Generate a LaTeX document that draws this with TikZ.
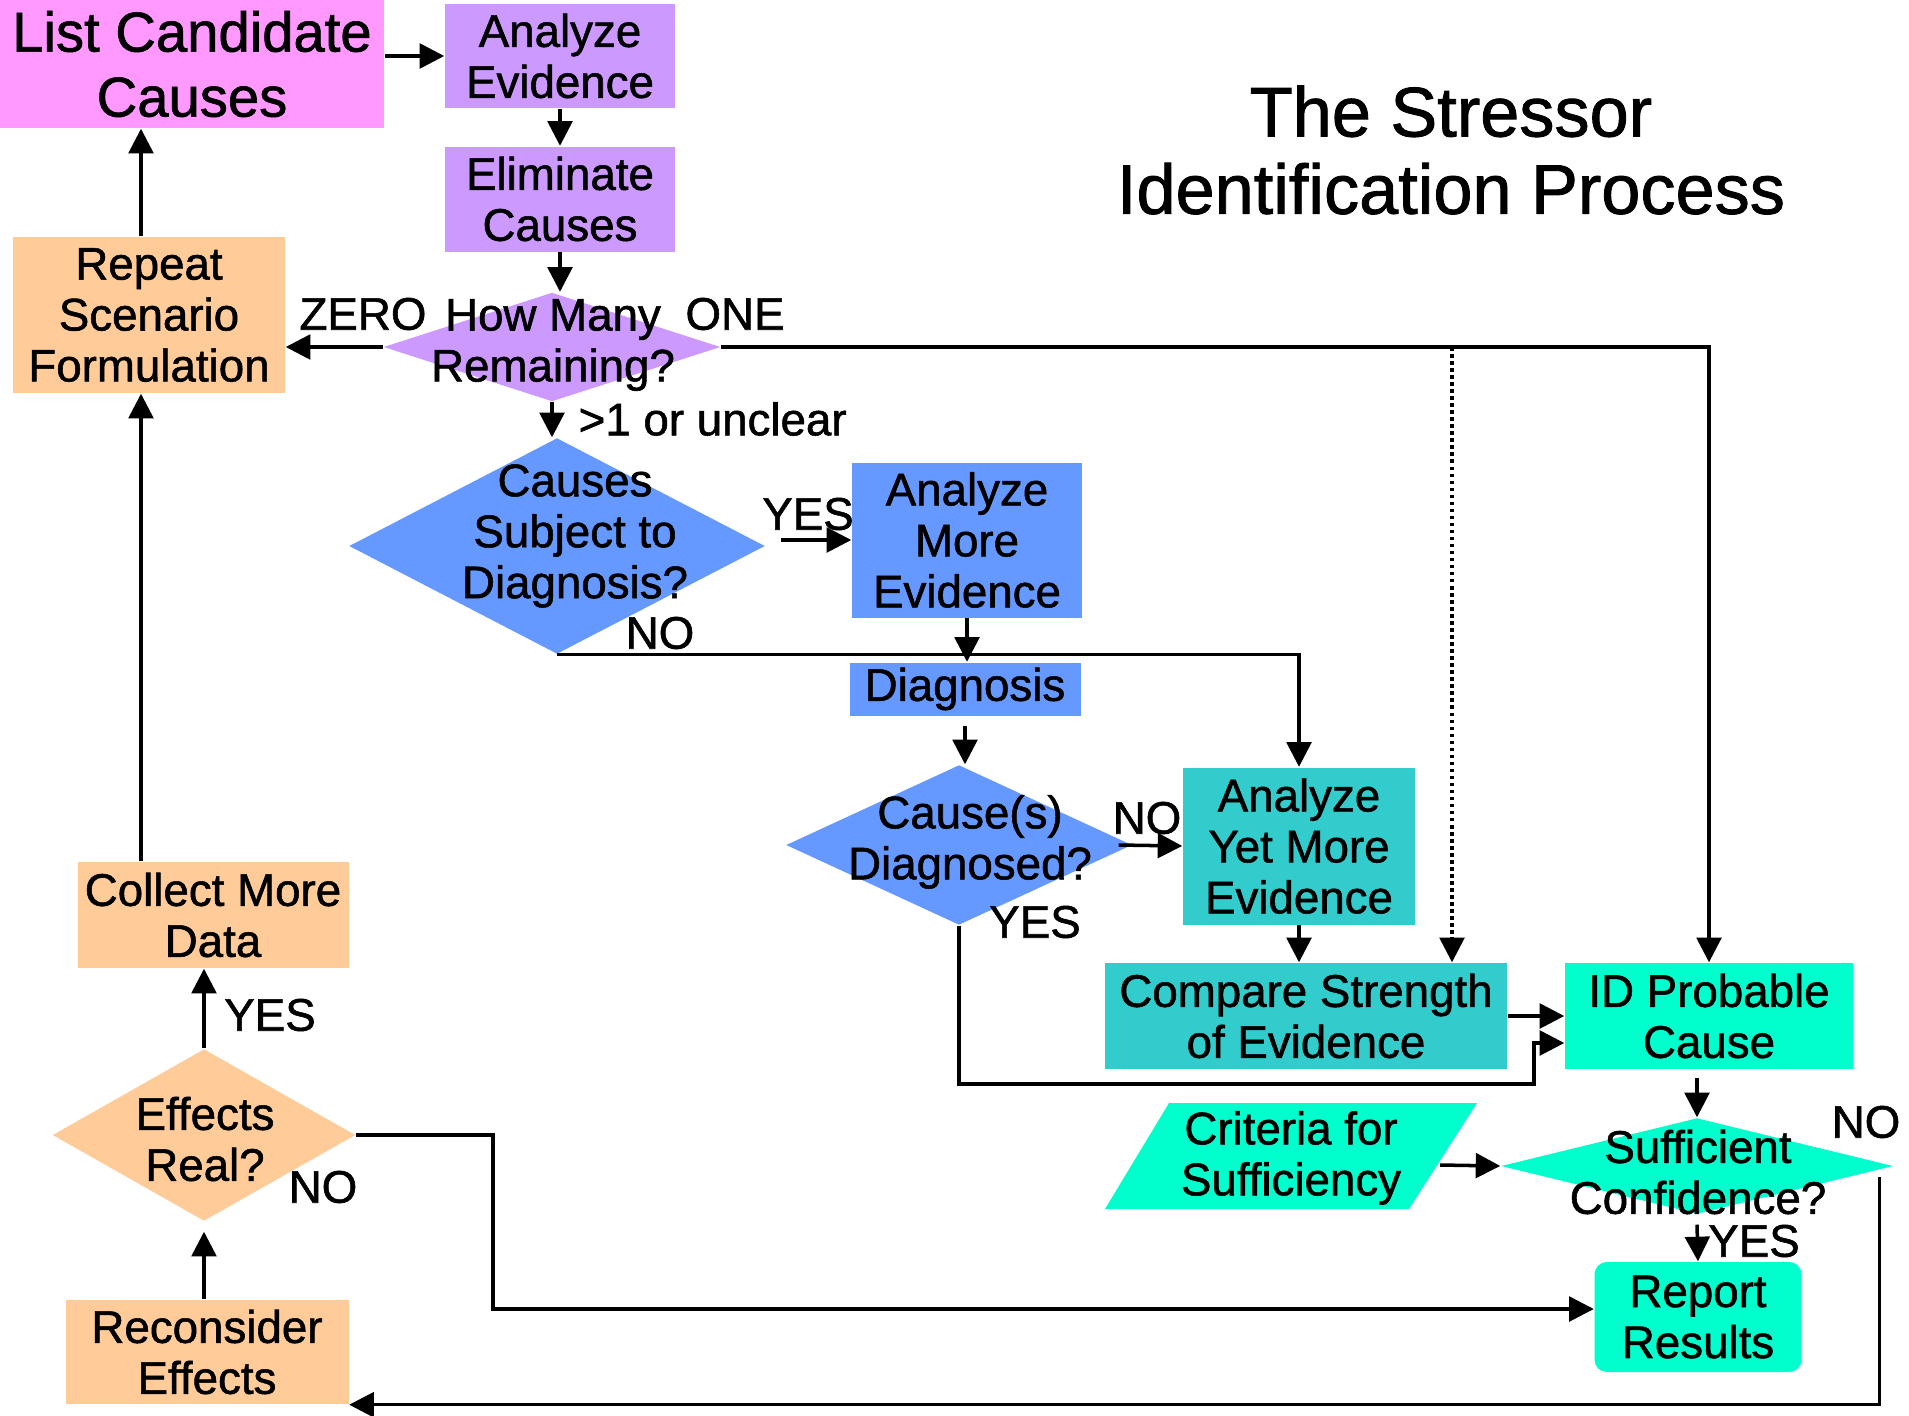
\documentclass[tikz,border=0pt]{standalone}
\usepackage{fontspec}
\setmainfont{Liberation Sans}[FakeBold=1.2]
\usetikzlibrary{shapes.geometric,arrows.meta}
\definecolor{pinkbox}{HTML}{FF99FF}
\definecolor{lilac}{HTML}{CC99FF}
\definecolor{peach}{HTML}{FFCC99}
\definecolor{bluebox}{HTML}{6699FF}
\definecolor{tealbox}{HTML}{33CCCC}
\definecolor{mint}{HTML}{00FFCC}
\begin{document}
\begin{tikzpicture}[x=0.1mm,y=-0.1mm,
  txt/.style={font=\fontsize{13}{14.5}\selectfont, align=center, inner sep=0pt},
  box/.style={rectangle, inner sep=0pt, align=center, font=\fontsize{13}{14.5}\selectfont},
  dia/.style={diamond, inner sep=0pt},
  arr/.style={-{Triangle[length=7pt,width=7pt]}, line width=1pt},
  lbl/.style={font=\fontsize{13}{14.5}\selectfont, inner sep=0pt}]

\useasboundingbox (0,0) rectangle (1909,1416);

% title
\node[txt, font=\fontsize{20}{22}\selectfont] (title) at (1451,150) {The Stressor\\Identification Process};

% upper chain
\node[box, fill=pinkbox, minimum width=38.4mm, minimum height=12.8mm, font=\fontsize{16}{18.5}\selectfont] (list) at (192,64) {List Candidate\\Causes};
\node[box, fill=lilac, minimum width=23mm, minimum height=10.4mm] (ae) at (560,56) {Analyze\\Evidence};
\node[box, fill=lilac, minimum width=23mm, minimum height=10.5mm] (el) at (560,199) {Eliminate\\Causes};
\node[dia, fill=lilac, minimum width=33.7mm, minimum height=10.9mm] (hm) at (552,347) {};
\node[txt] (hmT) at (553,345) {How Many\\Remaining?};
\node[box, fill=peach, minimum width=27.2mm, minimum height=15.6mm] (rep) at (149,315) {Repeat\\Scenario\\Formulation};

% diagnosis branch
\node[dia, fill=bluebox, minimum width=41.6mm, minimum height=21.6mm] (csd) at (557,546) {};
\node[txt] (csdT) at (575,536) {Causes\\Subject to\\Diagnosis?};
\node[box, fill=bluebox, minimum width=23mm, minimum height=15.5mm] (ame) at (967,540) {Analyze\\More\\Evidence};
\node[box, fill=bluebox, minimum width=23.1mm, minimum height=5.3mm] (diag) at (965,689) {Diagnosis};
\node[dia, fill=bluebox, minimum width=34.6mm, minimum height=16mm] (cd) at (959,845) {};
\node[txt] (cdT) at (970,842) {Cause(s)\\Diagnosed?};

% strength of evidence
\node[box, fill=tealbox, minimum width=23.2mm, minimum height=15.7mm] (aym) at (1299,846) {Analyze\\Yet More\\Evidence};
\node[box, fill=tealbox, minimum width=40.2mm, minimum height=10.6mm] (cmp) at (1306,1016) {Compare Strength\\of Evidence};
\node[box, fill=mint, minimum width=28.8mm, minimum height=10.6mm] (id) at (1709,1016) {ID Probable\\Cause};

% sufficiency
\fill[mint] (1105,1209) -- (1169,1103) -- (1477,1103) -- (1409,1209) -- cycle;
\node[txt] (crit) at (1291,1158) {Criteria for\\Sufficiency};
\coordinate (critE) at (1440,1165);
\node[dia, fill=mint, minimum width=39.2mm, minimum height=9.6mm] (suff) at (1697,1166) {};
\node[box, fill=mint, rounded corners=3.5pt, minimum width=20.7mm, minimum height=11mm] (rr) at (1698,1317) {Report\\Results};

% effects loop
\node[box, fill=peach, minimum width=27.1mm, minimum height=10.6mm] (cmd) at (213,915) {Collect More\\Data};
\node[dia, fill=peach, minimum width=30.3mm, minimum height=17.2mm] (er) at (204,1135) {};
\node[txt] (erT) at (205,1139) {Effects\\Real?};
\node[box, fill=peach, minimum width=28.3mm, minimum height=10.4mm] (rec) at (207,1352) {Reconsider\\Effects};

% connectors
\draw[arr] (list.east |- ae.west) -- (ae.west);
\draw[arr] (ae.south) -- (el.north);
\draw[arr] (el.south) -- (el.south |- hm.north);
\draw[arr] (hm.west) -- (hm.west -| rep.east);
\draw[arr] (hm.south) -- (hm.south |- csd.north);
\draw[arr] (hm.east) -| (id.north);
\coordinate (tap) at (1452,347);
\draw[arr, densely dotted] (tap) -- (tap |- cmp.north);
\draw[arr] ([xshift=-0.8mm]rep.north) -- ([xshift=-0.8mm]rep.north |- list.south);
\draw[arr] ([xshift=-0.8mm]cmd.north -| rep.north) -- ([xshift=-0.8mm]rep.south);
\draw[arr] ([xshift=1.5mm]csd.east |- ame.west) -- (ame.west);
\draw[arr] (csd.south) -| (aym.north);
\draw[arr] (ame.south) -- (ame.south |- diag.north);
\draw[arr] ([yshift=-1mm]diag.south) -- (diag.south |- cd.north);
\draw[arr] ([xshift=-1.4mm]cd.east) -- (aym.west);
\draw[arr] (aym.south) -- (aym.south |- cmp.north);
\draw[arr] (cmp.east) -- (id.west);
\coordinate (j1) at (1534,1084);
\draw[arr] (cd.south) |- (j1) |- ([yshift=-2.7mm]id.west);
\draw[arr] ([yshift=-0.8mm]suff.north |- id.south) -- (suff.north);
\draw[arr] (critE) -- (suff.west);
\draw[arr] ([yshift=-1mm]suff.south) -- (rr.north);
\draw[arr] ([shift={(-14,11)}]suff.east) |- (rec.south east);
\draw[arr] (er.north) -- (er.north |- cmd.south);
\draw[arr] (rec.north -| er.south) -- ([yshift=-1mm]er.south);
\coordinate (j2) at (493,1309);
\draw[arr] (er.east) -| (j2) -- (j2 -| rr.west);

% text on top of the decision shapes
\node[txt] (suffT) at (1698,1172) {Sufficient\\Confidence?};

% branch labels
\node[lbl] (zero) at (363,314) {ZERO};
\node[lbl] (one) at (735,314) {ONE};
\node[lbl, anchor=west] (many) at (578,419) {>1 or unclear};
\node[lbl] (yes1) at (808,514) {YES};
\node[lbl] (no1) at (660,633) {NO};
\node[lbl] (no2) at (1147,818) {NO};
\node[lbl] (yes2) at (1035,922) {YES};
\node[lbl] (no3) at (1866,1122) {NO};
\node[lbl] (yes3) at (1754,1241) {YES};
\node[lbl] (no4) at (323,1187) {NO};
\node[lbl] (yes4) at (270,1015) {YES};
\end{tikzpicture}
\end{document}
